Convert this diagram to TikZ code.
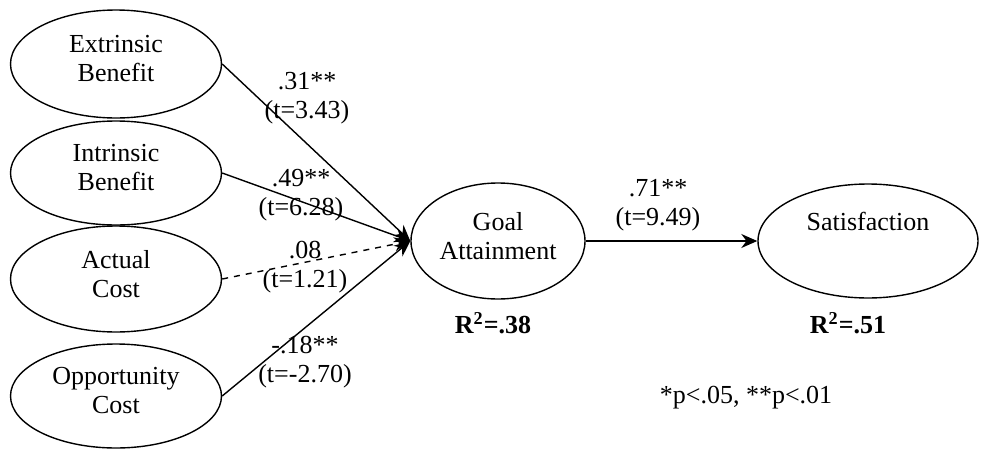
\documentclass[tikz,border=0pt]{standalone}
\usepackage{fontspec}
\setmainfont{Liberation Serif}
\usetikzlibrary{arrows.meta,shapes.geometric}

\tikzset{
  latent/.style={draw, ellipse, line width=0.7pt, inner sep=0pt, align=center},
  path/.style={line width=0.7pt, -{Stealth[length=8pt,width=7pt]}},
  coef/.style={align=center, inner sep=0pt},
}

\begin{document}
\begin{tikzpicture}[x=0.5pt, y=-0.5pt, font=\fontsize{13}{14.5}\selectfont]
  \useasboundingbox (0,0) rectangle (987,450);
  \node[latent, minimum width=105.5pt, minimum height=54pt] (eb) at (116,64) {Extrinsic\\Benefit\\[-9pt]\mbox{}};
  \node[latent, minimum width=105.5pt, minimum height=52pt] (ib) at (116,173) {Intrinsic\\Benefit\\[-9pt]\mbox{}};
  \node[latent, minimum width=105.5pt, minimum height=53pt] (ac) at (116,279) {Actual\\Cost\\[-9pt]\mbox{}};
  \node[latent, minimum width=105.5pt, minimum height=52pt] (oc) at (116,396) {Opportunity\\Cost\\[-9pt]\mbox{}};
  \node[latent, minimum width=87pt, minimum height=58pt] (ga) at (498,241) {Goal\\Attainment\\[-9pt]\mbox{}};
  \node[latent, minimum width=110pt, minimum height=57pt] (sat) at (868,241) {Satisfaction\\\mbox{}\\[-9pt]\mbox{}};
  \draw[path] (eb.east) -- (ga.west);
  \draw[path] (ib.east) -- (ga.west);
  \draw[path, dashed] (ac.east) -- (ga.west);
  \draw[path] (oc.east) -- (ga.west);
  \draw[path] (ga.east) -- (sat.west);
  \node[coef] (c1) at (307,98) {.31**\\(t=3.43)};
  \node[coef] (c2) at (301,195) {.49**\\(t=6.28)};
  \node[coef] (c3) at (305,267) {.08\\(t=1.21)};
  \node[coef] (c4) at (305,362) {-.18**\\(t=-2.70)};
  \node[coef] (c5) at (658,205) {.71**\\(t=9.49)};
  \node[coef, font=\fontsize{13}{14.5}\selectfont\bfseries] (r1) at (493,323) {R\textsuperscript{2}=.38};
  \node[coef, font=\fontsize{13}{14.5}\selectfont\bfseries] (r2) at (848,323) {R\textsuperscript{2}=.51};
  \node[coef] (note) at (746,398) {*p<.05, **p<.01};
\end{tikzpicture}
\end{document}
